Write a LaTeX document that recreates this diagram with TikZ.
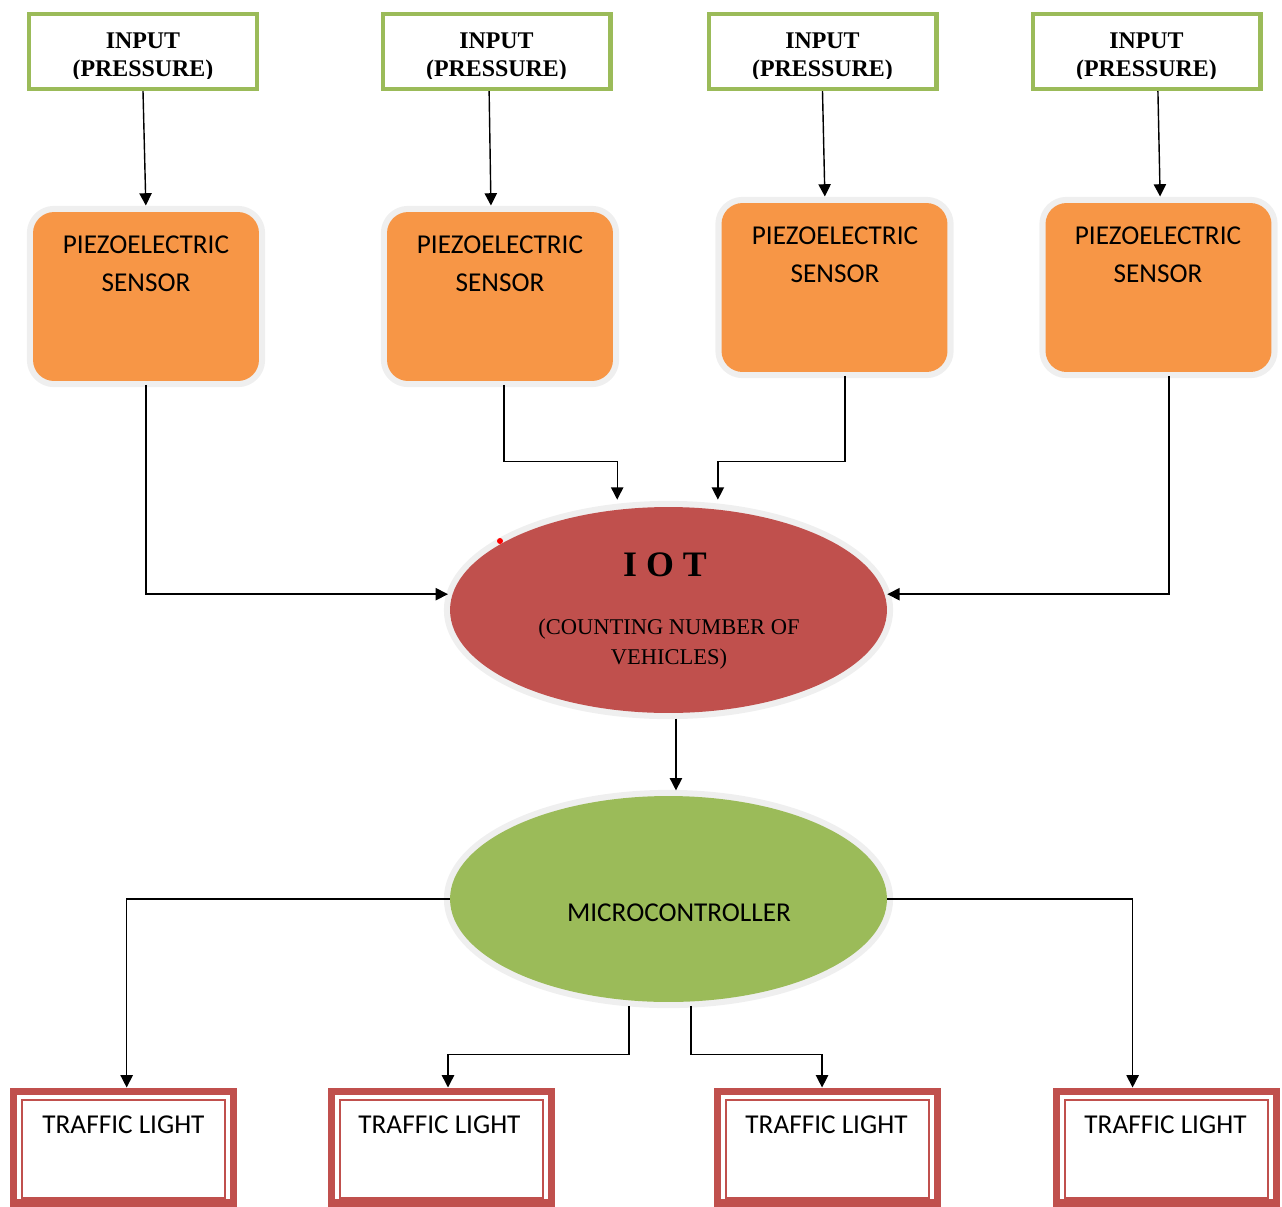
\documentclass[tikz,border=0pt]{standalone}
\usepackage{fontspec}
\setmainfont{Liberation Serif}
\newfontfamily\calibri{Carlito}
\usetikzlibrary{arrows.meta,shapes.geometric,calc}
\definecolor{ingreen}{HTML}{9BBB59}
\definecolor{sorange}{HTML}{F79646}
\definecolor{iotred}{HTML}{C0504D}
\definecolor{glow}{HTML}{EFEFEF}
\definecolor{tlred}{HTML}{C0504D}
\begin{document}
\begin{tikzpicture}[x=0.02cm,y=-0.02cm,
  inbox/.style={draw=ingreen, line width=2.3pt, fill=white, minimum width=4.56cm, minimum height=1.5cm, inner sep=0pt},
  intext/.style={align=center, inner sep=0pt, font=\bfseries\fontsize{13.6}{15.9}\selectfont},
  sensor/.style={fill=sorange, rounded corners=12pt, minimum width=4.52cm, minimum height=3.38cm, inner sep=0pt, preaction={draw=glow, line width=7pt}},
  sentext/.style={font=\calibri\fontsize{15.5}{21.5}\selectfont, align=center, inner sep=0pt},
  ellip/.style={ellipse, minimum width=8.74cm, minimum height=4.12cm, inner sep=0pt, preaction={draw=glow, line width=7pt}},
  tlbox/.style={draw=tlred, line width=4pt, fill=white, minimum width=4.4cm, minimum height=2.24cm, inner sep=0pt,
    path picture={\draw[tlred, line width=1.1pt] ([shift={(5pt,-5pt)}]path picture bounding box.north west) rectangle ([shift={(-5pt,3pt)}]path picture bounding box.south east);}},
  tltext/.style={font=\calibri\fontsize{15.5}{18}\selectfont, inner sep=0pt},
  arr/.style={-{Triangle[length=7pt,width=7pt]}, line width=0.8pt},
  conn/.style={line width=0.8pt}
]
\useasboundingbox (0,0) rectangle (1282,1207);

% input boxes
\node[inbox] (in1) at (143,51.5) {};
\node[inbox] (in2) at (496.5,51.5) {};
\node[inbox] (in3) at (822.5,51.5) {};
\node[inbox] (in4) at (1146.5,51.5) {};
\begin{scope}
  \clip (0,14) rectangle (1282,78);
  \node[intext] (in1txt) at (143,57.5) {INPUT\\(PRESSURE)};
  \node[intext] (in2txt) at (496.5,57.5) {INPUT\\(PRESSURE)};
  \node[intext] (in3txt) at (822.5,57.5) {INPUT\\(PRESSURE)};
  \node[intext] (in4txt) at (1146.5,57.5) {INPUT\\(PRESSURE)};
\end{scope}

% sensors
\node[sensor] (s1) at (146,296.5) {};
\node[sensor] (s2) at (500,296.5) {};
\node[sensor] (s3) at (834.5,287.5) {};
\node[sensor] (s4) at (1158.5,287.5) {};
\node[sentext] (s1txt) at (146,264) {PIEZOELECTRIC\\SENSOR};
\node[sentext] (s2txt) at (500,264) {PIEZOELECTRIC\\SENSOR};
\node[sentext] (s3txt) at (835,255) {PIEZOELECTRIC\\SENSOR};
\node[sentext] (s4txt) at (1158,255) {PIEZOELECTRIC\\SENSOR};

% IOT
\node[ellip, fill=iotred] (iot) at (668.5,610) {};
\node[font=\bfseries\fontsize{20.4}{24}\selectfont, inner sep=0pt] (iottitle) at (665,565) {I O T};
\node[font=\fontsize{12.8}{17}\selectfont, align=center, inner sep=0pt] (iotsub) at (669,644) {(COUNTING NUMBER OF\\VEHICLES)};
\fill[red] (500,541) circle (3);

% microcontroller
\node[ellip, fill=ingreen] (micro) at (668.5,899) {};
\node[font=\calibri\fontsize{15.5}{18}\selectfont, inner sep=0pt] (microtxt) at (679,913) {MICROCONTROLLER};

% traffic lights
\node[tlbox] (tl1) at (123.5,1147) {};
\node[tlbox] (tl2) at (441.5,1147) {};
\node[tlbox] (tl3) at (827.5,1147) {};
\node[tlbox] (tl4) at (1166.5,1147) {};
\node[tltext] (tl1txt) at (123.5,1125) {TRAFFIC LIGHT};
\node[tltext] (tl2txt) at (439.5,1125) {TRAFFIC LIGHT};
\node[tltext] (tl3txt) at (826.5,1125) {TRAFFIC LIGHT};
\node[tltext] (tl4txt) at (1165.5,1125) {TRAFFIC LIGHT};

% input -> sensor
\draw[arr, shorten >=3.5pt] (in1.south) -- (s1.north);
\draw[arr, shorten >=3.5pt] ([xshift=-4.2pt]in2.south) -- ([xshift=-5.1pt]s2.north);
\draw[arr, shorten >=3.5pt] (in3.south) -- ([xshift=-5.4pt]s3.north);
\draw[arr, shorten >=3.5pt] ([xshift=6.5pt]in4.south) -- ([xshift=1pt]s4.north);

% sensors -> IOT
\draw[arr, shorten <=2pt, shorten >=1pt] (s1.south) |- ([yshift=9pt]iot.west);
\draw[arr, shorten <=2pt, shorten >=4pt] ([xshift=2.3pt]s2.south) -- ++(0,80) -| ([xshift=-29.2pt]iot.north);
\draw[arr, shorten <=2pt, shorten >=4pt] ([xshift=6pt]s3.south) -- ++(0,89) -| ([xshift=28.1pt]iot.north);
\draw[arr, shorten <=2pt] ([xshift=6pt]s4.south) |- ([yshift=9pt]iot.east);

% IOT -> micro
\draw[arr, shorten <=3pt, shorten >=3pt] ([xshift=4.25pt]iot.south) -- ([xshift=4.25pt]micro.north);

% micro -> traffic lights
\draw[arr] (micro.west) -| ([xshift=1.8pt]tl1.north);
\draw[arr] (micro.east) -| ([xshift=-19.3pt]tl4.north);
\draw[arr, shorten <=2pt] ([xshift=-22.4pt]micro.south) -- ++(0,52) -| ([xshift=3.7pt]tl2.north);
\draw[arr, shorten <=2pt] ([xshift=12.75pt]micro.south) -- ++(0,52) -| ([xshift=-3.1pt]tl3.north);
\end{tikzpicture}
\end{document}
